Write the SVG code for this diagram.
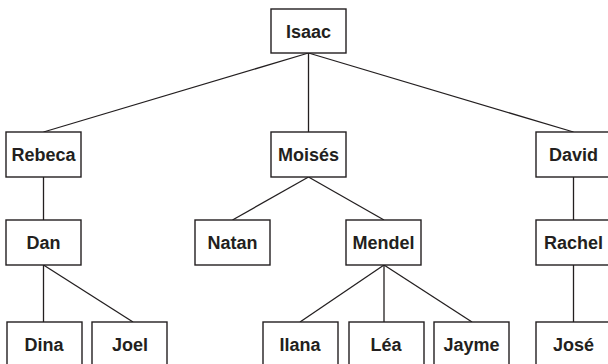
<svg xmlns="http://www.w3.org/2000/svg" width="608" height="364" viewBox="0 0 608 364">
<style>
.box{fill:#fff;stroke:#231f20;stroke-width:1.4}
.lbl{font-family:"Liberation Sans",Arial,sans-serif;font-weight:bold;font-size:18px;fill:#231f20;text-anchor:middle}
.conn line{stroke:#231f20;stroke-width:1.3}
</style>
<rect width="608" height="364" fill="#fff"/>
<g id="connectors" class="conn">
<line x1="308.5" y1="53" x2="43.5" y2="132"/>
<line x1="308.5" y1="53" x2="308.5" y2="132"/>
<line x1="308.5" y1="53" x2="573.5" y2="132"/>
<line x1="43.5" y1="177" x2="43.5" y2="220"/>
<line x1="308.5" y1="177" x2="232.5" y2="220"/>
<line x1="308.5" y1="177" x2="384" y2="220"/>
<line x1="573.5" y1="177" x2="573.5" y2="220"/>
<line x1="43.5" y1="265" x2="43.5" y2="322"/>
<line x1="43.5" y1="265" x2="133" y2="322"/>
<line x1="384" y1="265" x2="300" y2="322"/>
<line x1="384" y1="265" x2="384" y2="322"/>
<line x1="384" y1="265" x2="472" y2="322"/>
<line x1="573.5" y1="265" x2="573.5" y2="322"/>
</g>
<g id="isaac"><rect class="box" x="271" y="9" width="75" height="44"/><text class="lbl" x="308.5" y="37.5">Isaac</text></g>
<g id="rebeca"><rect class="box" x="6" y="132" width="75" height="45"/><text class="lbl" x="43.5" y="160.5">Rebeca</text></g>
<g id="moises"><rect class="box" x="271" y="132" width="75" height="45"/><text class="lbl" x="308.5" y="160.5">Moisés</text></g>
<g id="david"><rect class="box" x="536" y="132" width="75" height="45"/><text class="lbl" x="573.5" y="160.5">David</text></g>
<g id="dan"><rect class="box" x="6" y="220" width="75" height="45"/><text class="lbl" x="43.5" y="248.5">Dan</text></g>
<g id="natan"><rect class="box" x="195" y="220" width="75" height="45"/><text class="lbl" x="232.5" y="248.5">Natan</text></g>
<g id="mendel"><rect class="box" x="346" y="220" width="75" height="45"/><text class="lbl" x="383.5" y="248.5">Mendel</text></g>
<g id="rachel"><rect class="box" x="536" y="220" width="75" height="45"/><text class="lbl" x="573.5" y="248.5">Rachel</text></g>
<g id="dina"><rect class="box" x="7" y="322" width="75" height="46"/><text class="lbl" x="44" y="350.5">Dina</text></g>
<g id="joel"><rect class="box" x="92" y="322" width="75" height="46"/><text class="lbl" x="130" y="351">Joel</text></g>
<g id="ilana"><rect class="box" x="263" y="322" width="75" height="46"/><text class="lbl" x="300" y="351">Ilana</text></g>
<g id="lea"><rect class="box" x="349" y="322" width="75" height="46"/><text class="lbl" x="386" y="351">Léa</text></g>
<g id="jayme"><rect class="box" x="434" y="322" width="75" height="46"/><text class="lbl" x="471.5" y="351">Jayme</text></g>
<g id="jose"><rect class="box" x="536" y="322" width="75" height="46"/><text class="lbl" x="573.5" y="351">José</text></g>
</svg>
